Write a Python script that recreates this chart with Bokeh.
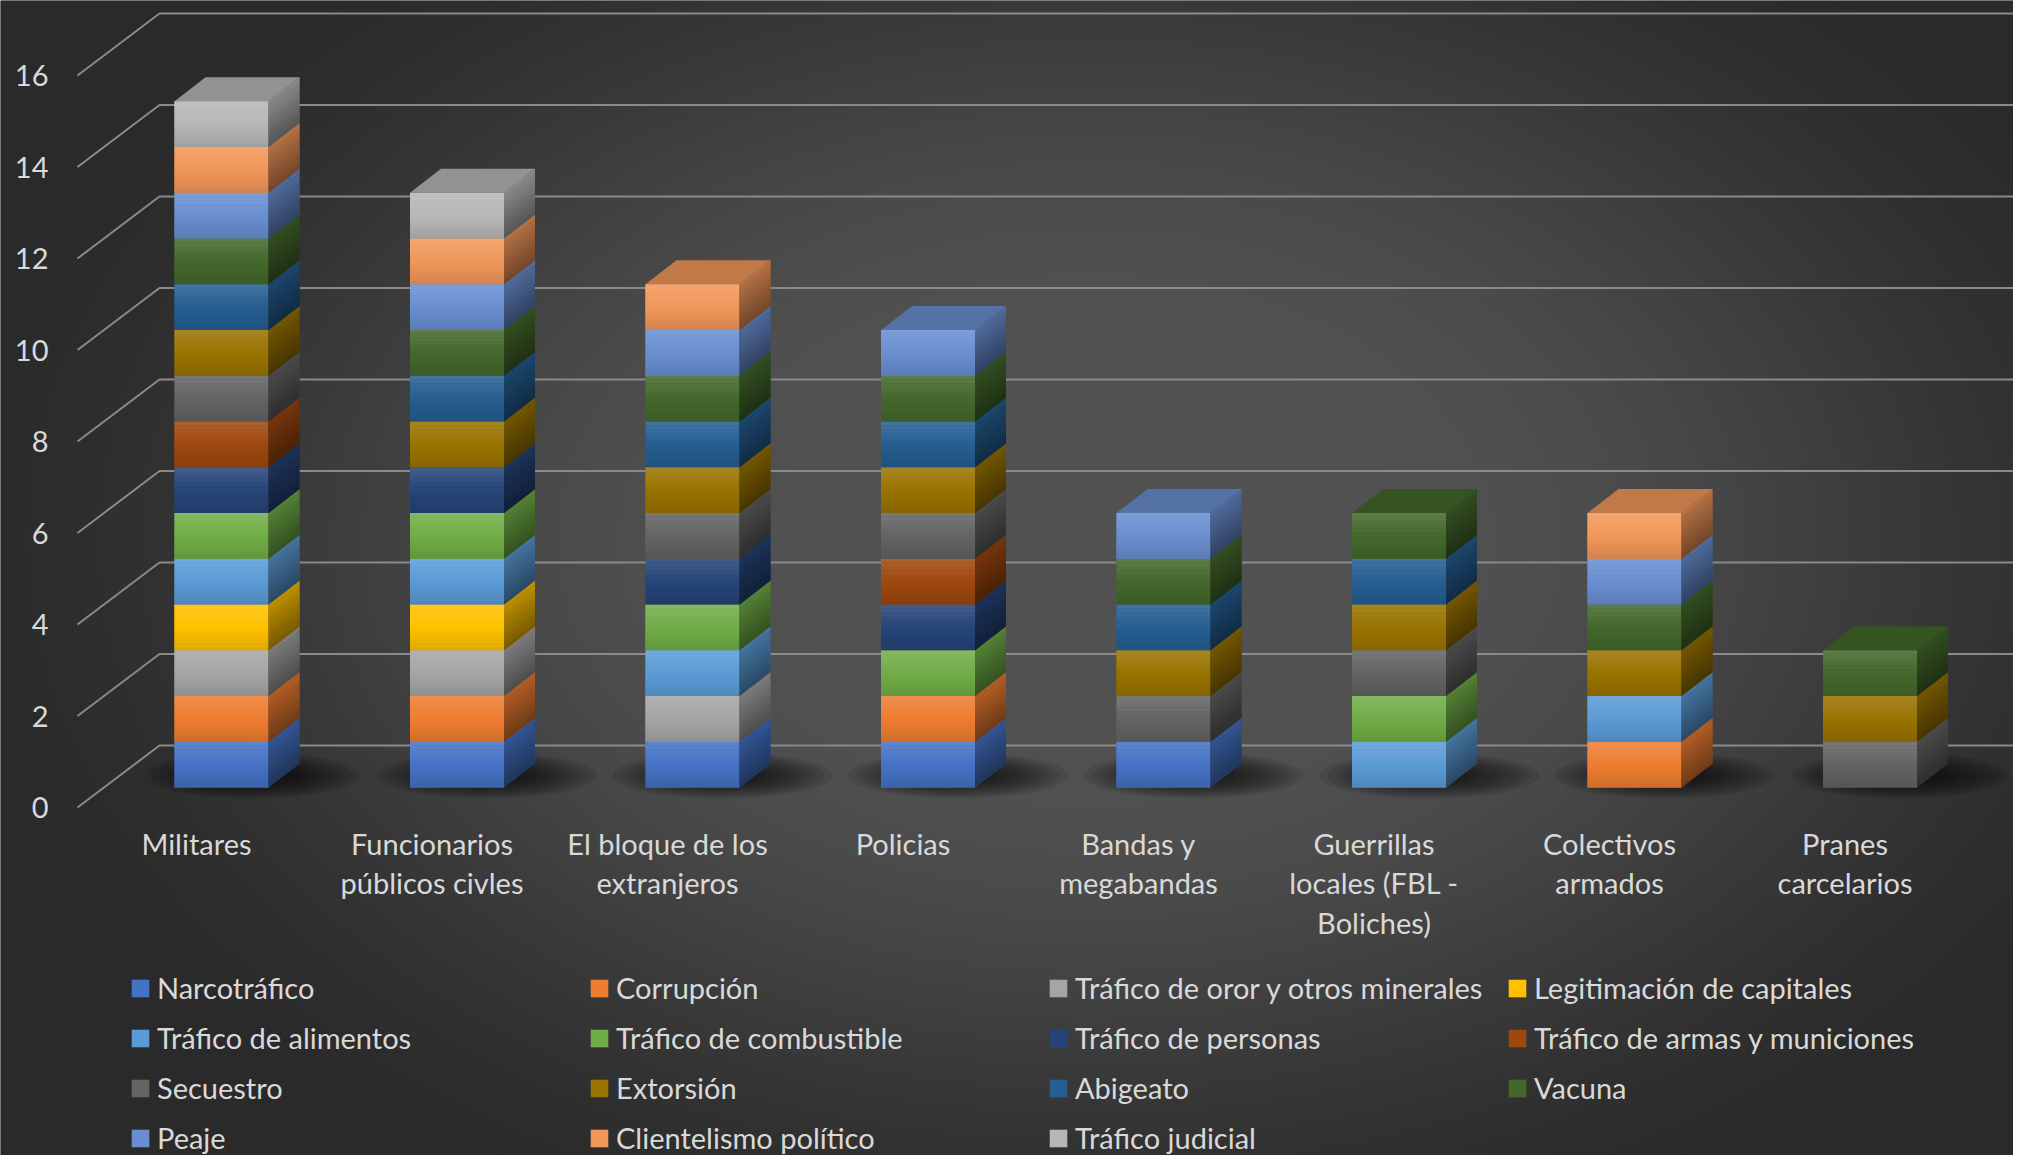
import numpy as np
from bokeh.plotting import figure
from bokeh.models import (ColumnDataSource, Range1d, LinearAxis, FixedTicker,
                          Legend, LegendItem)
from bokeh.embed import file_html
from bokeh.resources import INLINE
from bokeh.core.properties import value

# ---------------- data ----------------
categories = ["Militares", "Funcionarios\npúblicos civles", "El bloque de los\nextranjeros",
              "Policias", "Bandas y\nmegabandas", "Guerrillas\nlocales (FBL -\nBoliches)",
              "Colectivos\narmados", "Pranes\ncarcelarios"]

series_names = ["Narcotráfico", "Corrupción", "Tráfico de oror y otros minerales",
                "Legitimación de capitales", "Tráfico de alimentos", "Tráfico de combustible",
                "Tráfico de personas", "Tráfico de armas y municiones", "Secuestro",
                "Extorsión", "Abigeato", "Vacuna", "Peaje", "Clientelismo político",
                "Tráfico judicial"]

narcotrafico  = [1, 1, 1, 1, 1, 0, 0, 0]
corrupcion    = [1, 1, 0, 1, 0, 0, 1, 0]
trafico_oro   = [1, 1, 1, 0, 0, 0, 0, 0]
legitimacion  = [1, 1, 0, 0, 0, 0, 0, 0]
alimentos     = [1, 1, 1, 0, 0, 1, 1, 0]
combustible   = [1, 1, 1, 1, 0, 1, 0, 0]
personas      = [1, 1, 1, 1, 0, 0, 0, 0]
armas         = [1, 0, 0, 1, 0, 0, 0, 0]
secuestro     = [1, 0, 1, 1, 1, 1, 0, 1]
extorsion     = [1, 1, 1, 1, 1, 1, 1, 1]
abigeato      = [1, 1, 1, 1, 1, 1, 0, 0]
vacuna        = [1, 1, 1, 1, 1, 1, 1, 1]
peaje         = [1, 1, 1, 1, 1, 0, 1, 0]
clientelismo  = [1, 1, 1, 0, 0, 0, 1, 0]
judicial      = [1, 1, 0, 0, 0, 0, 0, 0]

series_values = [narcotrafico, corrupcion, trafico_oro, legitimacion, alimentos,
                 combustible, personas, armas, secuestro, extorsion, abigeato,
                 vacuna, peaje, clientelismo, judicial]

y_ticks = [0, 2, 4, 6, 8, 10, 12, 14, 16]

# ---------------- styles ----------------
series_colors = ["#4472C4", "#ED7D31", "#A5A5A5", "#FFC000", "#5B9BD5", "#70AD47",
                 "#264478", "#9E480E", "#636363", "#997300", "#255E91", "#43682B",
                 "#698ED0", "#F1975A", "#B7B7B7"]
FONT = "Lato"
TEXT_COLOR = "#d9d9d9"

W, H = 2013, 1155
PX_X, PX_Y = 235.5, 45.75          # pixels per category / per unit
X0_PX, Y0_PX = 196.0, 807.0        # figure-pixel position of tick 0
x_start, x_end = -X0_PX / PX_X, (W - X0_PX) / PX_X
y_end, y_start = Y0_PX / PX_Y, -(H - Y0_PX) / PX_Y

BAR_OFF = 25 / PX_X
BAR_W = 94 / PX_X
DX, DY = 31 / PX_X, 24 / PX_Y
BASE = 20 / PX_Y
GRID_FX, GRID_BX, GRID_DY = (77 - X0_PX) / PX_X, (159 - X0_PX) / PX_X, 62 / PX_Y
YAXIS_X = (68 - X0_PX) / PX_X


def shade(hex_color, f):
    h = hex_color.lstrip('#')
    r, g, b = [int(h[i:i + 2], 16) for i in (0, 2, 4)]
    if f >= 1:
        t = f - 1
        r, g, b = [int(round(c + (255 - c) * t)) for c in (r, g, b)]
    else:
        r, g, b = [int(round(c * f)) for c in (r, g, b)]
    return "#%02x%02x%02x" % (r, g, b)


p = figure(width=W, height=H, x_range=Range1d(x_start, x_end), y_range=Range1d(y_start, y_end),
           x_axis_type=None, y_axis_type=None, toolbar_location=None, output_backend="svg",
           min_border=0, min_border_left=0, min_border_right=0, min_border_top=0,
           min_border_bottom=0, background_fill_color="#2c2c2c",
           border_fill_color="#2c2c2c", outline_line_color=None)

# ---------------- background gradient ----------------
IMG_W, IMG_H = 1007, 578
gx = np.linspace(0, W, IMG_W)
gy = np.linspace(H, 0, IMG_H)
GX, GY = np.meshgrid(gx, gy)
r = np.sqrt(((GX - 1090) / 1150) ** 2 + ((GY - 540) / 760) ** 2)
t = np.clip((r - 0.28) / 0.75, 0, 1)
ss = t * t * (3 - 2 * t)
lum = 42 + 39 * (1 - ss)
img = np.empty((IMG_H, IMG_W), dtype=np.uint32)
view = img.view(dtype=np.uint8).reshape((IMG_H, IMG_W, 4))
view[..., 0] = lum.astype(np.uint8)
view[..., 1] = lum.astype(np.uint8)
view[..., 2] = lum.astype(np.uint8)
view[..., 3] = 255
p.image_rgba(image=[img], x=x_start, y=y_start, dw=x_end - x_start, dh=y_end - y_start,
             level="image")

# ---------------- 3D gridlines ----------------
gxs = [[GRID_FX, GRID_BX, x_end] for v in y_ticks]
gys = [[v, v + GRID_DY, v + GRID_DY] for v in y_ticks]
p.multi_line(xs=gxs, ys=gys, line_color="#8a8a8a", line_width=2)

# ---------------- shadows ----------------
n_cat = len(categories)
totals = [sum(s[i] for s in series_values) for i in range(n_cat)]
sh_x = [i + BAR_OFF + 30 / PX_X for i in range(n_cat)]
sh_y = [BASE + 12 / PX_Y for i in range(n_cat)]
for sc in np.linspace(1.0, 0.3, 10):
    p.ellipse(x=sh_x, y=sh_y, width=[220 / PX_X * sc] * n_cat, height=[46 / PX_Y * sc] * n_cat,
              fill_color="black", fill_alpha=0.085, line_color=None)

# ---------------- bars ----------------
cum = [0.0] * n_cat
top_color = [None] * n_cat
legend_items = []
side_xs, side_ys, side_cols = [], [], []
band_l, band_b, band_t, band_c = [], [], [], []
FRONT_F = list(np.linspace(1.13, 0.88, 12))
SIDE_F = list(np.linspace(0.74, 0.48, 10))
for s_idx, (name, vals, col) in enumerate(zip(series_names, series_values, series_colors)):
    xs_, bots, tops = [], [], []
    for i, v in enumerate(vals):
        if v <= 0:
            continue
        b = BASE + cum[i]
        tp = b + v
        cx = i + BAR_OFF
        xs_.append(cx)
        bots.append(b)
        tops.append(tp)
        xr = cx + BAR_W / 2
        side_xs.append([xr, xr + DX, xr + DX, xr])
        side_ys.append([b, b + DY, tp + DY, tp])
        side_cols.append(shade(col, 0.62))
        nb = len(SIDE_F)
        for k, f in enumerate(SIDE_F):
            t1 = tp - (tp - b) * k / nb
            t0 = tp - (tp - b) * (k + 1) / nb
            side_xs.append([xr, xr + DX, xr + DX, xr])
            side_ys.append([t0, t0 + DY, t1 + DY, t1])
            side_cols.append(shade(col, f))
        nf = len(FRONT_F)
        for k, f in enumerate(FRONT_F):
            t1 = tp - (tp - b) * k / nf
            t0 = tp - (tp - b) * (k + 1) / nf
            band_l.append(cx)
            band_b.append(t0)
            band_t.append(t1)
            band_c.append(shade(col, f))
        cum[i] += v
        top_color[i] = col
    src = ColumnDataSource(dict(x=xs_, bottom=bots, top=tops))
    rend = p.vbar(x="x", bottom="bottom", top="top", width=BAR_W, source=src,
                  fill_color=col, line_color=None)
    legend_items.append(LegendItem(label=name, renderers=[rend]))

p.vbar(x=band_l, bottom=band_b, top=band_t, width=BAR_W, fill_color=band_c, line_color=None)
p.patches(xs=side_xs, ys=side_ys, fill_color=side_cols, line_color=None)

# top faces
top_xs, top_ys, top_cols = [], [], []
for i in range(n_cat):
    cx = i + BAR_OFF
    xl, xr = cx - BAR_W / 2, cx + BAR_W / 2
    T = BASE + totals[i]
    top_xs.append([xl, xl + DX, xr + DX, xr])
    top_ys.append([T, T + DY, T + DY, T])
    top_cols.append(shade(top_color[i], 0.8))
p.patches(xs=top_xs, ys=top_ys, fill_color=top_cols, line_color=None)

# ---------------- axes ----------------
yaxis = LinearAxis(fixed_location=YAXIS_X, ticker=FixedTicker(ticks=y_ticks),
                   axis_line_color=None, major_tick_line_color=None,
                   minor_tick_line_color=None, major_tick_out=0, major_tick_in=0,
                   major_label_standoff=20, major_label_text_font=FONT,
                   major_label_text_font_size="29px", major_label_text_color=TEXT_COLOR)
p.add_layout(yaxis, "left")

xaxis = LinearAxis(fixed_location=0, ticker=FixedTicker(ticks=list(range(n_cat))),
                   major_label_overrides={i: c for i, c in enumerate(categories)},
                   axis_line_color=None, major_tick_line_color=None,
                   minor_tick_line_color=None, major_tick_out=0, major_tick_in=0,
                   major_label_standoff=18, major_label_text_font=FONT,
                   major_label_text_font_size="29px", major_label_text_color=TEXT_COLOR,
                   major_label_text_line_height=1.14)
p.add_layout(xaxis, "below")

# ---------------- legend ----------------
legend = Legend(items=legend_items, orientation="horizontal", ncols=4,
                location=(129, 0), glyph_width=22, glyph_height=22, label_standoff=6,
                label_width=416, spacing=15, padding=0, margin=0,
                border_line_color=None, background_fill_alpha=0,
                label_text_font=FONT, label_text_font_size="29px",
                label_text_color=TEXT_COLOR)
p.add_layout(legend, "center")

open("out.html", "w").write(file_html(p, INLINE))
